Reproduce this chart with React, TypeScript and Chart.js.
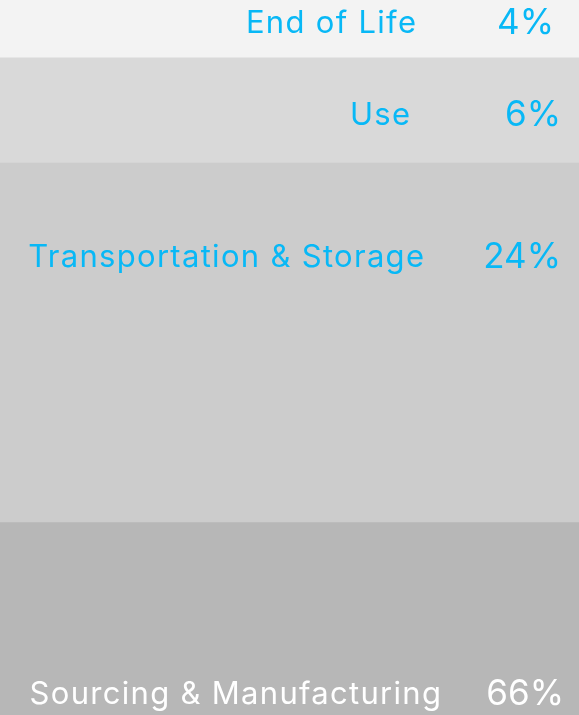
import React, { useEffect, useRef } from "react";
import { Chart, registerables } from "chart.js";

Chart.register(...registerables);

const categories = ["Sourcing & Manufacturing", "Transportation & Storage", "Use", "End of Life"];
const percentValues = [66, 24, 6, 4];
// visual band size of each stage, as drawn in the picture (share of full height)
const bandShare = [26.9, 50.3, 14.7, 8.1];
const bandColors = ["#b7b7b7", "#cccccc", "#d9d9d9", "#f3f3f3"];
const textColors = ["#ffffff", "#08b8f6", "#08b8f6", "#08b8f6"];

const labelPlugin = {
  id: "stageLabels",
  afterDatasetsDraw(chart: any, _args: any, opts: any) {
    const { ctx, chartArea } = chart;
    ctx.save();
    ctx.textBaseline = "middle";
    chart.data.datasets.forEach((ds: any, i: number) => {
      const meta = chart.getDatasetMeta(i);
      const bar = meta.data[0];
      if (!bar) return;
      const top = Math.min(bar.y, bar.base);
      const bottom = Math.max(bar.y, bar.base);
      const y = top + (bottom - top) * opts.yFrac[i];
      ctx.fillStyle = textColors[i];
      ctx.textAlign = "right";
      ctx.font = "400 31px Inter, sans-serif";
      (ctx as any).letterSpacing = "1.3px";
      ctx.fillText(categories[i], chartArea.right - opts.labelRight[i] + 1.3, y + 1);
      ctx.font = "400 35px Inter, sans-serif";
      (ctx as any).letterSpacing = "0px";
      ctx.fillText(percentValues[i] + "%", chartArea.right - opts.pctRight[i], y + 1);
    });
    ctx.restore();
  },
};

export default function App() {
  const ref = useRef<HTMLCanvasElement | null>(null);
  useEffect(() => {
    document.body.style.margin = "0";
    const chart = new Chart(ref.current!, {
      type: "bar",
      data: {
        labels: ["Stages"],
        datasets: categories.map((c, i) => ({
          label: c,
          data: [bandShare[i]],
          backgroundColor: bandColors[i],
          borderWidth: 0,
          barPercentage: 1,
          categoryPercentage: 1,
        })),
      },
      options: {
        animation: false,
        responsive: true,
        maintainAspectRatio: false,
        layout: { padding: 0 },
        scales: {
          x: { stacked: true, display: false },
          y: { stacked: true, display: false, min: 0, max: 100 },
        },
        plugins: {
          legend: { display: false },
          tooltip: { enabled: false },
          stageLabels: {
            yFrac: [0.89, 0.26, 0.54, 0.39],
            labelRight: [138, 155, 169, 163],
            pctRight: [15, 18, 18, 25],
          },
        } as any,
      },
      plugins: [labelPlugin],
    });
    return () => chart.destroy();
  }, []);
  return (
    <div style={{ width: 579, height: 715, position: "relative" }}>
      <canvas ref={ref} />
    </div>
  );
}
